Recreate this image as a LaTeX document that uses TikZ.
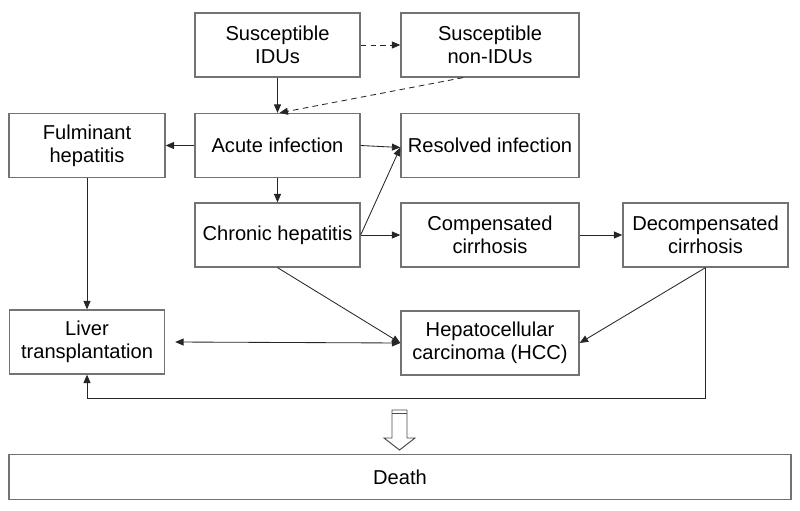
\documentclass[tikz,border=0pt]{standalone}
\usepackage{fontspec}
\setmainfont{Liberation Sans}
\usepackage{tikz}
\usetikzlibrary{calc}
\usetikzlibrary{positioning}
\usetikzlibrary{arrows.meta}

\tikzset{
    stage/.style={draw=black!55, line width=0.9pt, align=center, font=\fontsize{14.3}{16.4}\selectfont,
        minimum width=4.125cm, minimum height=1.6cm, inner sep=0pt},
    wide/.style={stage, minimum width=4.45cm},
    flow/.style={-{Triangle[length=6pt,width=5pt]}, line width=0.6pt, color=black!85},
    maybe/.style={flow, dashed, dash pattern=on 4pt off 3pt}
}

\begin{document}
\begin{tikzpicture}[x=0.025cm, y=-0.025cm]
    \useasboundingbox (0,0) rectangle (800,511);

    % stages of the disease
    \node[stage] (idu) at (277.5,45) {Susceptible\\IDUs};
    \node[wide] (nonidu) at (490,45) {Susceptible\\non-IDUs};
    \node[stage] (acute) at (277.5,145.5) {Acute infection};
    \node[wide] (resolved) at (490,145.5) {Resolved infection};
    \node[stage, minimum width=3.9cm] (fulminant) at (87,145.5) {Fulminant\\hepatitis};
    \node[stage] (chronic) at (277.5,235) {Chronic hepatitis};
    \node[wide] (comp) at (490,235) {Compensated\\cirrhosis};
    \node[stage] (decomp) at (705.5,235) {Decompensated\\cirrhosis};
    \node[stage, minimum width=3.875cm] (liver) at (87,342) {Liver\\transplantation};
    \node[wide] (hcc) at (490,343) {Hepatocellular\\carcinoma (HCC)};
    \node[stage, minimum width=19.55cm, minimum height=1.125cm] (death) at (400,477) {Death};

    % transitions
    \draw[maybe] (idu.east) -- (nonidu.west);
    \draw[maybe] ($(nonidu.south)+(-27,0)$) -- ($(acute.north)+(2,0)$);
    \draw[flow] (idu) -- (acute);
    \draw[flow] (acute) -- (fulminant);
    \draw[flow] (acute.east) -- ($(resolved.west)+(0,2)$);
    \draw[flow] (acute) -- (chronic);
    \draw[flow] (chronic.east) -- ($(resolved.west)+(0,2)$);
    \draw[flow] (chronic) -- (comp);
    \draw[flow] (comp) -- (decomp);
    \draw[flow] (decomp.south) -- (hcc.east);
    \draw[flow] (chronic.south) -- (hcc.west);
    \draw[flow, {Triangle[length=6pt,width=5pt]}-{Triangle[length=6pt,width=5pt]}] (hcc.west) -- ($(liver.east)+(10,0)$);
    \draw[flow] (fulminant) -- (liver);
    \draw[flow] (decomp.south) -- ++(0,131) -| (liver.south);

    % big arrow into death
    \draw[black!70, line width=0.7pt, fill=white]
        (392,410) -- (407,410) -- (407,438) -- (415,438) -- (399.5,450)
        -- (384,438) -- (392,438) -- cycle;
    \draw[black!70, line width=0.7pt] (392,413.5) -- (407,413.5);
\end{tikzpicture}
\end{document}
